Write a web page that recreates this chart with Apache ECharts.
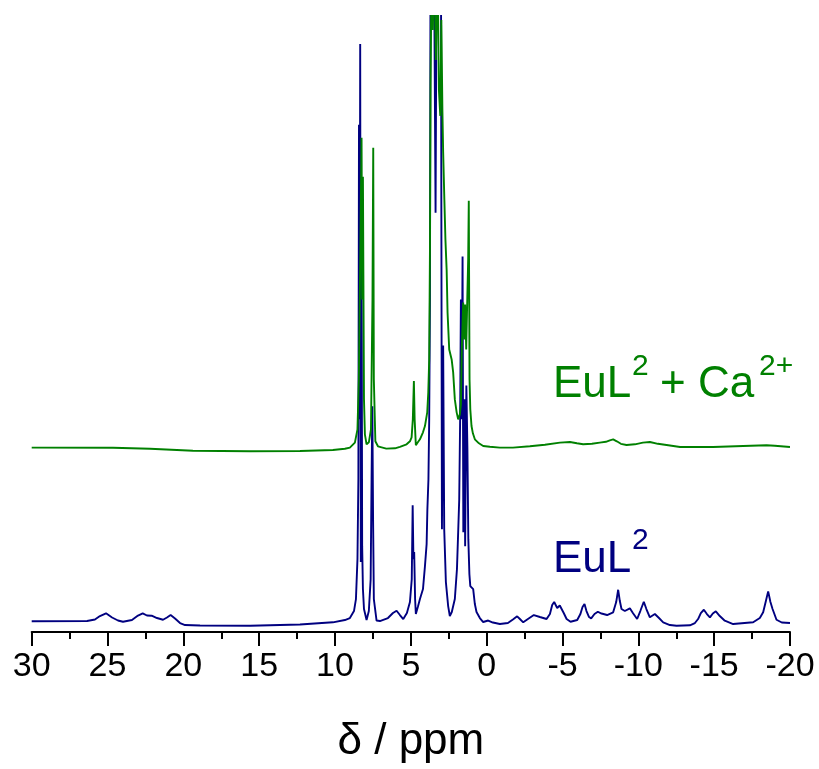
<!DOCTYPE html>
<html>
<head>
<meta charset="utf-8">
<script src="https://cdn.jsdelivr.net/npm/echarts@6/dist/echarts.min.js"></script>
<style>
  html, body { margin: 0; padding: 0; background: #fff; }
  #chart { width: 819px; height: 769px; }
</style>
</head>
<body>
<div id="chart"></div>
<script>
// 1H NMR spectra: chemical shift (ppm) vs. intensity (arbitrary units)
// EuL2 alone
const eulPpm = [30.0, 26.35, 25.83, 25.50, 25.10, 24.70, 24.31, 23.98, 23.39, 22.99, 22.68, 22.40, 22.09, 21.74, 21.34, 21.08, 20.84, 20.55, 20.22, 19.89, 18.90, 15.60, 12.31, 10.14, 9.35, 9.02, 8.75, 8.62, 8.52, 8.46, 8.42, 8.38, 8.34, 8.30, 8.25, 8.21, 8.16, 8.09, 7.92, 7.77, 7.65, 7.59, 7.54, 7.49, 7.44, 7.26, 7.04, 6.51, 6.18, 5.94, 5.72, 5.50, 5.26, 5.06, 4.94, 4.88, 4.83, 4.78, 4.72, 4.67, 4.54, 4.40, 4.20, 4.07, 3.96, 3.91, 3.84, 3.79, 3.74, 3.70, 3.61, 3.48, 3.37, 3.28, 3.15, 3.02, 2.99, 2.95, 2.87, 2.80, 2.69, 2.54, 2.43, 2.30, 2.10, 1.96, 1.88, 1.81, 1.75, 1.70, 1.65, 1.59, 1.54, 1.47, 1.42, 1.34, 1.27, 1.21, 1.14, 1.08, 0.98, 0.89, 0.78, 0.67, 0.45, 0.23, -0.10, -0.41, -0.87, -1.40, -1.73, -2.01, -2.19, -2.41, -2.72, -3.11, -3.51, -3.95, -4.17, -4.32, -4.45, -4.65, -4.82, -5.08, -5.27, -5.53, -5.97, -6.18, -6.32, -6.45, -6.58, -6.75, -6.89, -7.11, -7.33, -7.57, -7.94, -8.34, -8.54, -8.67, -8.78, -8.89, -9.11, -9.44, -9.64, -9.92, -10.13, -10.36, -10.53, -10.76, -11.09, -11.36, -11.64, -12.08, -12.52, -13.40, -13.73, -13.94, -14.12, -14.32, -14.52, -14.72, -14.91, -15.11, -15.37, -15.70, -16.25, -17.57, -18.01, -18.23, -18.41, -18.56, -18.71, -18.85, -19.11, -19.46, -20.0];
const eulInt = [1.07, 1.10, 1.25, 1.60, 1.87, 1.45, 1.15, 1.03, 1.20, 1.65, 1.87, 1.65, 1.63, 1.40, 1.23, 1.45, 1.70, 1.35, 0.90, 0.70, 0.65, 0.63, 0.75, 0.97, 1.20, 1.40, 2.10, 3.30, 7.30, 15.3, 50.8, 21.3, 58.9, 7.0, 40.3, 8.6, 4.3, 2.3, 1.2, 2.1, 5.3, 15.3, 22.6, 11.3, 3.3, 1.15, 1.10, 1.40, 1.90, 2.13, 1.70, 1.30, 1.90, 3.0, 5.3, 12.7, 7.3, 8.0, 3.3, 1.8, 2.5, 3.3, 4.3, 6.6, 8.8, 12.3, 15.3, 21.3, 33.3, 70, 80, 70, 42, 75, 85, 75, 43.3, 10.3, 28.7, 10.3, 5.0, 2.6, 1.6, 2.0, 3.3, 6.3, 10.0, 13.3, 21.3, 33.3, 21.3, 37.6, 10.0, 23.3, 8.6, 24.7, 18.3, 9.3, 5.8, 4.6, 4.5, 4.3, 2.8, 2.0, 1.4, 1.0, 1.15, 0.95, 0.80, 0.90, 1.25, 1.57, 1.30, 0.97, 1.30, 1.70, 1.50, 1.30, 1.80, 2.70, 3.00, 2.40, 2.65, 1.90, 1.30, 1.03, 1.20, 1.80, 2.50, 2.80, 2.10, 1.50, 1.37, 1.80, 2.03, 1.85, 1.70, 1.97, 3.00, 4.23, 3.10, 2.30, 2.10, 2.37, 1.90, 1.30, 2.10, 3.03, 2.30, 1.47, 1.80, 1.40, 0.97, 0.70, 0.63, 0.67, 0.90, 1.30, 1.90, 2.23, 1.80, 1.47, 1.85, 2.07, 1.60, 1.13, 0.80, 0.97, 1.40, 1.97, 3.10, 4.07, 3.00, 2.30, 1.23, 0.95, 0.90];

// EuL2 + Ca2+
const eulCaPpm = [30.0, 24.64, 22.20, 19.37, 15.60, 12.31, 10.14, 9.35, 9.02, 8.69, 8.52, 8.43, 8.33, 8.25, 8.21, 8.16, 8.09, 8.03, 7.92, 7.77, 7.63, 7.53, 7.48, 7.44, 7.34, 7.17, 6.62, 6.05, 5.72, 5.28, 5.06, 4.95, 4.87, 4.80, 4.75, 4.67, 4.54, 4.40, 4.20, 4.07, 3.92, 3.85, 3.79, 3.74, 3.70, 3.63, 3.55, 3.45, 3.35, 3.24, 3.15, 3.06, 2.99, 2.92, 2.87, 2.79, 2.72, 2.64, 2.58, 2.47, 2.31, 2.21, 2.10, 1.98, 1.88, 1.77, 1.70, 1.64, 1.55, 1.48, 1.42, 1.35, 1.28, 1.22, 1.18, 1.13, 1.08, 1.00, 0.91, 0.78, 0.51, 0.23, -0.21, -0.87, -1.73, -2.85, -3.84, -4.83, -5.49, -5.95, -6.36, -6.94, -7.46, -7.86, -8.12, -8.34, -8.58, -8.85, -9.22, -9.77, -10.30, -10.76, -11.29, -11.86, -12.75, -14.93, -16.91, -18.45, -19.00, -20.0];
const eulCaInt = [0.97, 0.95, 0.85, 0.65, 0.60, 0.63, 0.73, 0.85, 0.97, 1.47, 2.8, 7.8, 20.8, 32.0, 15.8, 28.1, 5.8, 2.3, 1.3, 1.5, 2.8, 15.8, 31.0, 7.8, 1.6, 1.1, 0.87, 0.90, 1.05, 1.30, 1.60, 2.0, 3.8, 7.63, 3.8, 1.2, 1.5, 1.8, 2.5, 3.13, 4.5, 6.5, 9.8, 20.8, 37.2, 50, 42.8, 50, 39.8, 50, 36.8, 34.2, 43.8, 34.8, 30.6, 25.8, 21.8, 18.8, 14.5, 10.8, 9.8, 8.5, 5.8, 4.5, 3.8, 4.3, 5.3, 10.8, 15.5, 11.8, 15.3, 10.8, 15.8, 19.8, 25.7, 7.8, 4.8, 3.13, 2.4, 1.8, 1.4, 1.13, 1.05, 0.97, 0.97, 1.10, 1.25, 1.47, 1.53, 1.40, 1.30, 1.35, 1.47, 1.55, 1.70, 1.80, 1.60, 1.35, 1.23, 1.30, 1.47, 1.53, 1.35, 1.23, 1.03, 1.03, 1.13, 1.20, 1.15, 1.03];

// vertical offset used to stack the second trace above the first
const eulCaOffset = 17.5;

// x-axis range and tick step (ppm)
const ppmMin = -20;
const ppmMax = 30;
const ppmStep = 5;

const blueColor = '#000080';
const greenColor = '#008000';
const fontFamily = '"Liberation Sans", Arial, sans-serif';

const eulData = eulPpm.map((p, i) => [p, eulInt[i]]);
const eulCaData = eulCaPpm.map((p, i) => [p, eulCaInt[i] + eulCaOffset]);

const chart = echarts.init(document.getElementById('chart'), null, { renderer: 'canvas' });

chart.setOption({
  animation: false,
  backgroundColor: '#ffffff',
  grid: { left: 31.7, right: 29, top: 16, bottom: 136 },
  xAxis: {
    type: 'value',
    inverse: true,
    min: ppmMin,
    max: ppmMax,
    interval: ppmStep,
    name: 'δ / ppm',
    nameLocation: 'middle',
    nameGap: 88,
    nameTextStyle: { fontFamily, fontSize: 44, color: '#000' },
    axisLine: { show: true, onZero: false, lineStyle: { color: '#000', width: 2 } },
    axisTick: { show: true, inside: false, length: 14, lineStyle: { color: '#000', width: 2 } },
    minorTick: { show: true, splitNumber: 2, length: 7, lineStyle: { color: '#000', width: 2 } },
    axisLabel: { fontFamily, fontSize: 34, color: '#000', margin: 18 },
    splitLine: { show: false }
  },
  yAxis: {
    type: 'value',
    min: 0,
    max: 61.7,
    show: false,
    splitLine: { show: false }
  },
  series: [
    {
      name: 'EuL2',
      type: 'line',
      data: eulData,
      showSymbol: false,
      clip: true,
      lineStyle: { color: blueColor, width: 1.9 },
      itemStyle: { color: blueColor }
    },
    {
      name: 'EuL2 + Ca2+',
      type: 'line',
      data: eulCaData,
      showSymbol: false,
      clip: true,
      lineStyle: { color: greenColor, width: 1.9 },
      itemStyle: { color: greenColor }
    }
  ],
  graphic: [
    { type: 'text', left: 553, top: 363, style: { text: 'EuL', font: '44px ' + fontFamily, fill: greenColor } },
    { type: 'text', left: 632, top: 352, style: { text: '2', font: '30px ' + fontFamily, fill: greenColor } },
    { type: 'text', left: 660, top: 363, style: { text: '+ Ca', font: '44px ' + fontFamily, fill: greenColor } },
    { type: 'text', left: 759, top: 352, style: { text: '2+', font: '30px ' + fontFamily, fill: greenColor } },
    { type: 'text', left: 553, top: 538, style: { text: 'EuL', font: '44px ' + fontFamily, fill: blueColor } },
    { type: 'text', left: 632, top: 526, style: { text: '2', font: '30px ' + fontFamily, fill: blueColor } }
  ]
});
</script>
</body>
</html>
